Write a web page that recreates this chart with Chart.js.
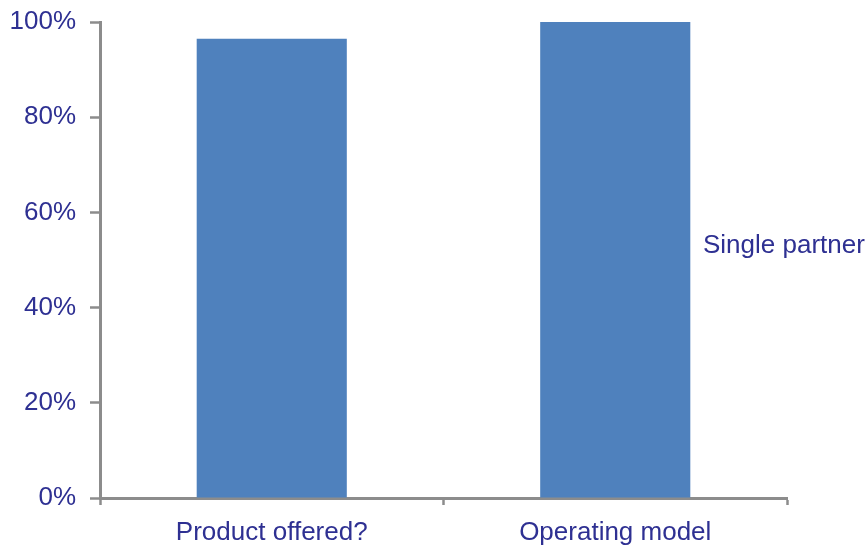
<!DOCTYPE html>
<html>
<head>
<meta charset="utf-8">
<script src="https://cdn.jsdelivr.net/npm/chart.js@4/dist/chart.umd.min.js"></script>
<style>
  html, body { margin: 0; padding: 0; background: #ffffff; }
  #wrap { width: 867px; height: 548px; }
</style>
</head>
<body>
<div id="wrap"><canvas id="c" width="867" height="548"></canvas></div>
<script>
const categories = ['Product offered?', 'Operating model'];
const seriesName = 'Single partner';
const singlePartner = [96.5, 100];
const yTicks = [0, 20, 40, 60, 80, 100];

const textColor = '#2e3092';
const axisColor = '#8c8c8c';
const fontFamily = '"Liberation Sans", Arial, sans-serif';

// Series name written beside the plot, with no swatch
const seriesLabel = {
  id: 'seriesLabel',
  afterDraw(chart) {
    const ctx = chart.ctx;
    ctx.save();
    ctx.font = '26px ' + fontFamily;
    ctx.fillStyle = textColor;
    ctx.textAlign = 'left';
    ctx.textBaseline = 'middle';
    ctx.fillText(chart.data.datasets[0].label, 703, 246);
    ctx.restore();
  }
};

new Chart(document.getElementById('c'), {
  type: 'bar',
  data: {
    labels: categories,
    datasets: [{
      label: seriesName,
      data: singlePartner,
      backgroundColor: '#4f81bd',
      borderWidth: 0,
      categoryPercentage: 1,
      barPercentage: 0.437
    }]
  },
  options: {
    responsive: false,
    animation: false,
    devicePixelRatio: 1,
    layout: { padding: { top: 22, right: 80, left: 0, bottom: 0 } },
    plugins: {
      legend: { display: false },
      tooltip: { enabled: false }
    },
    scales: {
      x: {
        offset: true,
        grid: {
          display: true,
          offset: true,
          drawOnChartArea: false,
          tickLength: 7,
          tickWidth: 2.5,
          tickColor: axisColor
        },
        border: { display: true, color: axisColor, width: 3 },
        ticks: {
          color: textColor,
          font: { family: fontFamily, size: 26 },
          padding: 12,
          maxRotation: 0
        },
        afterFit(scale) {
          scale.height = 50;
          scale.paddingLeft = 0;
          scale.paddingRight = 0;
        }
      },
      y: {
        min: 0,
        max: 100,
        afterBuildTicks(scale) {
          scale.ticks = yTicks.map(v => ({ value: v }));
        },
        grid: {
          display: true,
          drawOnChartArea: false,
          tickLength: 10,
          tickWidth: 2.5,
          tickColor: axisColor
        },
        border: { display: true, color: axisColor, width: 3 },
        ticks: {
          color: textColor,
          font: { family: fontFamily, size: 26 },
          padding: 14,
          callback: v => v + '%'
        },
        afterFit(scale) {
          scale.width = 100;
          scale.paddingTop = 0;
          scale.paddingBottom = 0;
        }
      }
    }
  },
  plugins: [seriesLabel]
});
</script>
</body>
</html>
